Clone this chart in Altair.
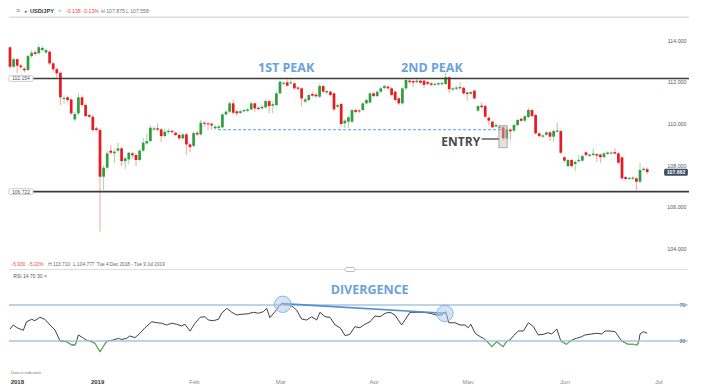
import altair as alt
import pandas as pd

# ---------------- data ----------------
opens = [113.65, 112.72, 113.08, 112.78, 112.62, 112.56, 113.23, 113.41, 113.36, 113.52,
         113.40, 113.44, 112.88, 112.60, 112.43, 111.17, 111.25, 111.15, 110.19, 110.48,
         111.25, 110.88, 110.40, 110.32, 109.76, 109.68, 107.44, 107.87, 108.69, 108.57,
         108.69, 108.80, 108.19, 108.27, 108.56, 108.48, 108.24, 108.69, 109.04, 109.15,
         109.70, 109.76, 109.71, 109.39, 109.58, 109.64, 109.55, 109.44, 109.28, 109.47,
         108.99, 108.92, 109.55, 109.47, 110.03, 110.00, 109.98, 109.76, 109.78, 109.81,
         110.43, 110.56, 110.96, 110.58, 110.50, 110.58, 110.60, 110.67, 110.96, 110.75,
         110.72, 110.77, 111.07, 110.85, 110.88, 111.44, 111.90, 111.97, 111.92, 111.92,
         111.72, 111.68, 111.05, 111.12, 111.41, 111.38, 111.28, 111.79, 111.48, 111.52,
         111.44, 110.80, 110.93, 110.00, 110.08, 110.08, 110.64, 110.62, 110.64, 110.96,
         111.00, 111.44, 111.31, 111.52, 111.70, 111.76, 111.68, 111.52, 111.20, 110.96,
         111.68, 112.05, 112.03, 111.98, 112.05, 112.05, 111.98, 111.92, 111.85, 111.87,
         111.88, 111.89, 112.21, 111.62, 111.66, 111.68, 111.71, 111.48, 111.42, 111.57,
         110.61, 110.85, 110.83, 110.27, 110.08, 109.85, 109.78, 109.81, 109.28, 109.70,
         109.65, 109.92, 110.22, 110.13, 110.30, 110.64, 110.40, 109.52, 109.36, 109.45,
         109.57, 109.36, 109.60, 109.63, 108.37, 107.95, 108.24, 108.05, 108.18, 108.21,
         108.61, 108.44, 108.48, 108.52, 108.50, 108.38, 108.53, 108.55, 108.62, 108.56,
         108.37, 107.42, 107.33, 107.34, 107.36, 107.20, 107.76, 107.80]
closes = [112.72, 113.08, 112.77, 112.70, 112.55, 113.23, 113.39, 113.33, 113.65, 113.62,
          113.52, 112.88, 112.60, 112.40, 111.25, 111.22, 111.12, 110.48, 110.45, 111.25,
          110.88, 110.35, 110.32, 109.68, 109.68, 107.44, 107.87, 108.56, 108.59, 108.64,
          108.80, 108.19, 108.32, 108.59, 108.47, 108.24, 108.69, 109.07, 109.15, 109.79,
          109.76, 109.70, 109.39, 109.60, 109.64, 109.58, 109.44, 109.28, 109.47, 108.99,
          108.86, 109.53, 109.47, 110.03, 109.98, 109.95, 109.90, 109.84, 109.85, 110.43,
          110.56, 110.96, 110.51, 110.48, 110.58, 110.64, 110.67, 110.96, 110.72, 110.69,
          110.80, 111.07, 110.83, 110.92, 111.44, 112.00, 111.95, 111.81, 111.97, 111.68,
          111.66, 111.20, 111.15, 111.36, 111.33, 111.30, 111.79, 111.52, 111.55, 111.36,
          110.67, 110.88, 109.97, 110.13, 110.29, 110.64, 110.55, 110.57, 110.96, 111.12,
          111.44, 111.31, 111.52, 111.68, 111.79, 111.68, 111.36, 111.12, 110.96, 111.68,
          112.08, 111.98, 111.96, 112.05, 111.95, 111.85, 111.90, 111.85, 111.90, 111.93,
          111.94, 112.21, 111.64, 111.68, 111.72, 111.75, 111.44, 111.41, 111.50, 111.20,
          110.83, 110.78, 110.32, 110.13, 109.81, 109.92, 109.84, 109.28, 109.71, 109.62,
          109.92, 110.16, 110.13, 110.34, 110.64, 110.35, 109.52, 109.39, 109.42, 109.57,
          109.36, 109.63, 109.66, 108.59, 108.21, 108.24, 107.95, 108.15, 108.25, 108.43,
          108.48, 108.50, 108.55, 108.45, 108.38, 108.56, 108.60, 108.60, 108.55, 108.11,
          107.36, 107.33, 107.38, 107.40, 107.20, 107.76, 107.82, 107.662]
highs = [113.72, 113.15, 113.12, 112.86, 112.70, 113.30, 113.50, 113.50, 113.76, 113.70,
         113.60, 113.50, 112.95, 112.68, 112.50, 111.35, 111.30, 111.20, 110.55, 111.47,
         111.35, 110.95, 110.45, 110.40, 109.85, 109.75, 108.00, 108.70, 108.95, 108.75,
         109.07, 108.88, 108.40, 108.65, 108.62, 108.55, 108.75, 109.30, 109.52, 109.90,
         109.85, 110.00, 109.78, 109.75, 109.75, 109.70, 109.60, 109.50, 109.53, 109.55,
         109.05, 109.62, 109.62, 110.16, 110.08, 110.05, 110.04, 109.92, 109.95, 110.50,
         110.65, 111.05, 111.15, 110.62, 110.65, 110.70, 110.75, 111.05, 111.00, 110.80,
         110.88, 111.15, 111.12, 111.04, 111.50, 112.05, 112.02, 112.10, 112.12, 111.96,
         111.78, 111.72, 111.22, 111.42, 111.50, 111.44, 111.90, 111.84, 111.62, 111.58,
         111.50, 110.95, 110.98, 110.20, 110.36, 110.70, 110.70, 110.68, 111.02, 111.18,
         111.50, 111.50, 111.58, 111.75, 111.86, 111.82, 111.74, 111.58, 111.26, 111.74,
         112.14, 112.12, 112.08, 112.12, 112.10, 112.10, 112.04, 111.98, 111.96, 111.99,
         112.00, 112.43, 112.26, 111.75, 111.80, 112.00, 111.76, 111.54, 111.56, 111.62,
         110.90, 111.00, 110.88, 110.32, 110.14, 110.00, 109.90, 109.88, 109.85, 109.76,
         109.98, 110.22, 110.28, 110.40, 110.75, 110.70, 110.45, 109.58, 109.48, 109.63,
         109.62, 109.70, 110.05, 109.68, 108.42, 108.30, 108.30, 108.22, 108.50, 108.50,
         108.66, 108.56, 108.80, 108.58, 108.55, 108.62, 108.66, 108.66, 108.80, 108.62,
         108.42, 107.48, 107.44, 107.46, 107.42, 108.10, 107.90, 107.875]
lows = [112.62, 112.65, 112.40, 112.60, 112.45, 112.50, 113.15, 113.25, 113.30, 113.45,
        113.35, 112.80, 112.50, 112.20, 110.88, 110.95, 111.00, 110.40, 110.10, 110.40,
        110.80, 110.30, 110.25, 109.60, 109.60, 104.80, 106.80, 107.80, 108.50, 108.10,
        108.60, 107.95, 107.81, 108.05, 108.30, 107.95, 108.20, 108.62, 108.98, 109.10,
        109.62, 109.62, 109.10, 109.32, 109.50, 109.50, 109.38, 109.20, 109.22, 108.48,
        108.60, 108.85, 109.40, 109.40, 109.85, 109.68, 109.68, 109.70, 109.72, 109.76,
        110.38, 110.50, 110.45, 110.35, 110.45, 110.52, 110.55, 110.62, 110.55, 110.62,
        110.66, 110.72, 110.48, 110.48, 110.82, 111.40, 111.84, 111.76, 111.86, 111.62,
        111.58, 110.82, 110.98, 111.05, 111.28, 111.22, 111.22, 111.46, 111.40, 111.30,
        110.60, 110.72, 109.90, 109.78, 109.76, 110.02, 110.48, 110.50, 110.58, 110.90,
        110.95, 111.25, 111.26, 111.46, 111.64, 111.62, 111.30, 111.06, 110.88, 110.90,
        111.62, 111.90, 111.75, 111.92, 111.88, 111.70, 111.84, 111.78, 111.80, 111.82,
        111.82, 111.84, 111.45, 111.56, 111.60, 111.62, 111.38, 111.10, 111.36, 111.14,
        110.55, 110.72, 110.26, 109.92, 109.76, 109.80, 109.72, 109.20, 109.22, 109.20,
        109.58, 109.86, 110.06, 110.06, 110.24, 110.28, 109.46, 109.32, 109.30, 109.40,
        109.15, 109.10, 109.55, 108.52, 108.14, 107.88, 107.88, 107.70, 108.12, 108.15,
        108.42, 108.38, 108.42, 108.15, 108.10, 108.32, 108.48, 108.50, 108.50, 108.05,
        107.30, 107.26, 107.28, 107.28, 106.80, 107.14, 107.70, 107.558]

rsi_x = [0.0, 0.9, 1.9, 2.8, 3.7, 4.6, 6.0, 6.9, 8.3, 9.7, 11.1, 12.5, 13.9, 15.8, 17.1, 18.1,
         18.5, 19.0, 20.2, 21.1, 22.2, 23.6, 25.0, 26.9, 28.7, 30.1, 31.0, 32.4, 33.3, 34.7,
         36.1, 37.5, 39.4, 40.8, 42.1, 43.5, 44.9, 46.3, 47.7, 48.6, 50.0, 51.4, 52.8, 54.2,
         55.1, 56.5, 57.9, 58.8, 60.2, 61.6, 63.0, 64.4, 66.2, 67.6, 69.0, 70.4, 71.3, 72.2,
         73.6, 75.0, 75.75, 76.9, 78.25, 79.6, 81.0, 82.4, 83.8, 85.2, 86.1, 87.5, 88.9, 90.3,
         91.7, 93.1, 94.4, 95.8, 97.2, 98.6, 100.0, 101.4, 102.8, 104.2, 105.6, 106.9, 108.8,
         109.7, 111.1, 113.0, 114.8, 116.7, 118.5, 119.9, 121.0, 121.9, 123.6, 125.0, 126.4,
         127.3, 128.0, 129.2, 130.6, 131.5, 132.4, 133.8, 135.2, 137.0, 138.0, 138.9, 139.8,
         141.2, 142.6, 144.0, 145.4, 146.75, 148.1, 149.5, 150.5, 151.9, 153.0, 154.6, 155.6,
         156.7, 157.4, 158.8, 159.7, 161.6, 163.0, 164.4, 165.3, 166.7, 168.1, 169.4, 169.9,
         171.75, 173.1, 174.25, 174.7, 175.0, 175.9, 177.0]
rsi_v = [43.3, 47.8, 44.8, 43.3, 41.9, 51.4, 54.1, 52.6, 56.3, 54.1, 47.8, 42.2, 30.0, 29.2, 25.6, 25.6,
         30.0, 36.7, 33.7, 31.1, 30.0, 27.4, 18.1, 30.0, 31.1, 33.0, 31.7, 33.0, 35.6, 33.7,
         38.6, 44.8, 51.4, 50.3, 49.7, 47.8, 49.7, 48.6, 46.7, 48.6, 41.1, 49.7, 56.3, 57.0,
         53.3, 52.6, 54.1, 60.8, 66.3, 61.9, 58.9, 59.7, 60.3, 61.9, 60.8, 62.6, 66.3, 55.9,
         62.6, 70.0, 71.9, 70.0, 68.9, 64.4, 54.4, 53.3, 57.0, 53.3, 61.9, 57.0, 56.3, 47.8,
         44.8, 35.9, 37.4, 45.9, 44.8, 48.6, 51.4, 57.8, 57.0, 60.8, 61.9, 58.9, 47.8,
         53.3, 61.9, 61.9, 61.9, 60.8, 58.9, 58.9, 62.6, 50.3, 50.3, 47.8, 47.8,
         44.8, 48.6, 38.6, 34.8, 33.0, 30.0, 23.7, 29.2, 23.7, 30.0, 31.1, 35.6,
         41.1, 41.1, 50.3, 45.9, 36.7, 37.4, 39.2, 37.8, 43.3, 30.0, 26.3, 30.0,
         32.2, 33.0, 34.8, 36.7, 37.8, 38.6, 37.8, 41.1, 41.1, 40.3, 33.0, 30.0,
         26.3, 26.3, 25.6, 30.0, 37.8, 40.3, 38.6]

tick_pos = [1.9, 24.2, 51.1, 75.1, 101.0, 127.1, 154.0, 180.1]
tick_lab = ["2018", "2019", "Feb", "Mar", "Apr", "May", "Jun", "Jul"]
price_ticks = [104, 106, 108, 110, 112, 114]

level_vals = [112.154, 106.722]
level_labels = ["112.154", "106.722"]
entry_price = 109.70
last_price = 107.662
rsi_bands = [70, 30]

# ---------------- layout ----------------
W, H = 681, 366
BLUE = "#6aa2dc"
FONT = "Liberation Sans"

xs = alt.Scale(domain=[-0.5556, 188.6111], nice=False, zero=False, padding=0)
ys = alt.Scale(domain=[103, 115], range=[261.17, 11.21], nice=False, zero=False)
yr = alt.Scale(domain=[0, 100], range=[360, 270], nice=False, zero=False)

expr = ""
for k in range(len(tick_pos) - 1):
    mid = (tick_pos[k] + tick_pos[k + 1]) / 2
    expr += f"datum.value < {mid:.2f} ? '{tick_lab[k]}' : "
expr += f"'{tick_lab[-1]}'"

x_axis = alt.Axis(values=tick_pos, labelExpr=expr, ticks=False, domain=False, grid=False,
                  labelFontSize=6, labelFont=FONT, labelPadding=4, labelFlush=False,
                  labelOverlap=False, title=None,
                  labelFontWeight={"condition": {"test": "datum.value < 37", "value": "bold"}, "value": "normal"},
                  labelColor={"condition": {"test": "datum.value < 37", "value": "#333333"}, "value": "#8a8a8a"})
y_axis = alt.Axis(orient="right", values=price_ticks, format=".3f", offset=-3, labelAlign="right",
                  labelPadding=0, ticks=False, domain=False, grid=False, labelFontSize=5.3,
                  labelFont=FONT, labelColor="#555555", labelBaseline="middle", title=None)


def X(f):
    return alt.X(f, scale=xs, axis=x_axis)


def YP(f):
    return alt.Y(f, scale=ys, axis=y_axis)


def YR(f):
    return alt.Y(f, scale=yr, axis=None)


def chrome_text(text, px, py, size, color, weight="normal", align="left"):
    return alt.Chart(pd.DataFrame({"t": [text]})).mark_text(
        align=align, baseline="middle", fontSize=size, color=color, fontWeight=weight, font=FONT
    ).encode(x=alt.value(px), y=alt.value(py), text="t:N")


def chrome_rule(px0, px1, py, color, width):
    return alt.Chart(pd.DataFrame({"a": [0]})).mark_rule(color=color, strokeWidth=width).encode(
        x=alt.value(px0), x2=alt.value(px1), y=alt.value(py))


candles = pd.DataFrame({"i": list(range(len(opens))), "open": opens, "close": closes,
                        "high": highs, "low": lows})
up = "datum.close >= datum.open"

wicks = alt.Chart(candles).mark_rule(strokeWidth=1).encode(
    x=X("i:Q"), y=YP("low:Q"), y2="high:Q",
    color=alt.condition(up, alt.value("#a3d6a3"), alt.value("#f4a3a3")))
bodies = alt.Chart(candles).mark_bar(size=2.7).encode(
    x=X("i:Q"), y=YP("open:Q"), y2="close:Q",
    color=alt.condition(up, alt.value("#2f9e3f"), alt.value("#e8191f")))

lv = pd.DataFrame({"p": level_vals, "t": level_labels, "x0": [6.39] * 2, "x1": [188.6] * 2,
                   "b0": [-0.28] * 2, "b1": [6.39] * 2, "bc": [3.05] * 2,
                   "plo": [v - 0.14 for v in level_vals], "phi": [v + 0.14 for v in level_vals]})
level_rules = alt.Chart(lv).mark_rule(color="#3a3a3a", strokeWidth=1.6).encode(
    x=X("x0:Q"), x2="x1:Q", y=YP("p:Q"))
level_boxes = alt.Chart(lv).mark_rect(fill="white", stroke="#c4c4c4", strokeWidth=0.8, cornerRadius=1).encode(
    x=X("b0:Q"), x2="b1:Q", y=YP("plo:Q"), y2="phi:Q")
level_text = alt.Chart(lv).mark_text(fontSize=5, color="#555555", font=FONT).encode(
    x=X("bc:Q"), y=YP("p:Q"), text="t:N")

ed = pd.DataFrame({"x0": [57.8], "x1": [137.0], "p": [entry_price]})
entry_dash = alt.Chart(ed).mark_rule(color="#7fb0e3", strokeWidth=1.2, strokeDash=[3, 2]).encode(
    x=X("x0:Q"), x2="x1:Q", y=YP("p:Q"))

eb = pd.DataFrame({"x0": [135.8], "x1": [138.1], "p0": [108.83], "p1": [109.89]})
entry_box = alt.Chart(eb).mark_rect(fill="#bdbdbd", fillOpacity=0.45, stroke="#9a9a9a", strokeWidth=0.8).encode(
    x=X("x0:Q"), x2="x1:Q", y=YP("p0:Q"), y2="p1:Q")
er = pd.DataFrame({"x0": [131.0], "x1": [135.8], "p": [109.25]})
entry_rule = alt.Chart(er).mark_rule(color="#555555", strokeWidth=1.4).encode(
    x=X("x0:Q"), x2="x1:Q", y=YP("p:Q"))
et = pd.DataFrame({"x": [125.2], "p": [109.12], "t": ["ENTRY"]})
entry_text = alt.Chart(et).mark_text(font="Open Sans", fontSize=12, fontWeight="bold", color="#4a4a4a").encode(
    x=X("x:Q"), y=YP("p:Q"), text="t:N")

pk = pd.DataFrame({"x": [76.7, 117.2], "p": [112.68, 112.68], "t": ["1ST PEAK", "2ND PEAK"]})
peak_text = alt.Chart(pk).mark_text(font="Open Sans", fontSize=12.5, fontWeight="bold", color=BLUE).encode(
    x=X("x:Q"), y=YP("p:Q"), text="t:N")

bd = pd.DataFrame({"x0": [181.7], "x1": [188.3], "p0": [107.49], "p1": [107.82], "xc": [185.0],
                   "p": [last_price], "t": [f"{last_price:.3f}"]})
badge = alt.Chart(bd).mark_rect(fill="#3d4d62", cornerRadius=1.5).encode(
    x=X("x0:Q"), x2="x1:Q", y=YP("p0:Q"), y2="p1:Q")
badge_text = alt.Chart(bd).mark_text(fontSize=5.2, color="white", fontWeight="bold", font=FONT).encode(
    x=X("xc:Q"), y=YP("p:Q"), text="t:N")

header = [
    chrome_rule(1, 681, 9.3, "#dddddd", 1.4),
    chrome_text("≡", 8, 3, 7, "#777777"),
    chrome_text("●", 16, 3, 5, "#2f9e3f"),
    chrome_text("USD/JPY", 22, 3, 5.6, "#333333", "bold"),
    chrome_text("˅", 50, 3, 6, "#888888"),
    chrome_text("-0.138", 58, 3, 5.2, "#e05050"),
    chrome_text("-0.13%", 74.5, 3, 5.2, "#e05050"),
    chrome_text("H 107.875", 93, 3, 5.2, "#777777"),
    chrome_text("L 107.558", 118, 3, 5.2, "#777777"),
]

price = alt.layer(wicks, bodies, level_rules, level_boxes, level_text, entry_dash, entry_box,
                  entry_rule, entry_text, peak_text, badge, badge_text, *header)

# ---------------- RSI panel ----------------
bdf = pd.DataFrame({"v": rsi_bands, "x0": [-0.28] * 2, "x1": [188.3] * 2, "xl": [187.6] * 2,
                    "t": [str(b) for b in rsi_bands]})
bands = alt.Chart(bdf).mark_rule(color="#a9c3e2", strokeWidth=1.4).encode(
    x=X("x0:Q"), x2="x1:Q", y=YR("v:Q"))
band_text = alt.Chart(bdf).mark_text(align="right", fontSize=5.3, color="#555555", font=FONT).encode(
    x=X("xl:Q"), y=YR("v:Q"), text="t:N")

rsi_df = pd.DataFrame({"x": rsi_x, "v": rsi_v, "k": list(range(len(rsi_x)))})
rsi_line = alt.Chart(rsi_df).mark_line(color="#404040", strokeWidth=1).encode(
    x=X("x:Q"), y=YR("v:Q"), order="k:Q")


def runs(test):
    rows, seg, cur = [], 0, []
    for k, (x, v) in enumerate(zip(rsi_x, rsi_v)):
        if test(v):
            cur.append((k, x, v))
        else:
            if len(cur) >= 2:
                rows += [{"k": a, "x": b, "v": c, "s": seg} for a, b, c in cur]
                seg += 1
            cur = []
    if len(cur) >= 2:
        rows += [{"k": a, "x": b, "v": c, "s": seg} for a, b, c in cur]
    return pd.DataFrame(rows)


green = alt.Chart(runs(lambda v: v <= 30)).mark_line(color="#5cb85c", strokeWidth=1.1).encode(
    x=X("x:Q"), y=YR("v:Q"), detail="s:N", order="k:Q")
red = alt.Chart(runs(lambda v: v >= 70)).mark_line(color="#e04848", strokeWidth=1.1).encode(
    x=X("x:Q"), y=YR("v:Q"), detail="s:N", order="k:Q")

dl = pd.DataFrame({"x": [75.75], "v": [71.5], "x2": [120.8], "v2": [60.8]})
div_line = alt.Chart(dl).mark_rule(color="#4f8fd6", strokeWidth=1.6).encode(
    x=X("x:Q"), y=YR("v:Q"), x2="x2:Q", y2="v2:Q")
cc = pd.DataFrame({"x": [75.75, 120.8], "v": [70.8, 60.6]})
circles = alt.Chart(cc).mark_circle(size=270, color="#a9c9ee", fillOpacity=0.5, stroke="#7eaee2",
                                    strokeWidth=1, strokeOpacity=0.9).encode(x=X("x:Q"), y=YR("v:Q"))
dt = pd.DataFrame({"x": [99.9], "v": [87.0], "t": ["DIVERGENCE"]})
div_text = alt.Chart(dt).mark_text(font="Open Sans", fontSize=12.5, fontWeight="bold", color=BLUE).encode(
    x=X("x:Q"), y=YR("v:Q"), text="t:N")

footer = [
    chrome_rule(1, 680, 261.5, "#dddddd", 1.2),
    alt.Chart(pd.DataFrame({"a": [0]})).mark_rect(fill="white", stroke="#aaaaaa", strokeWidth=0.8,
                                                   cornerRadius=2).encode(
        x=alt.value(337), x2=alt.value(347), y=alt.value(259.5), y2=alt.value(263.5)),
    chrome_text("-5.930", 3.7, 257, 4.8, "#e05050"),
    chrome_text("-5.22%", 20.3, 257, 4.8, "#e05050"),
    chrome_text("H 113.710", 40.3, 257, 4.8, "#666666"),
    chrome_text("L 104.777", 65.3, 257, 4.8, "#666666"),
    chrome_text("Tue 4 Dec 2018 - Tue 9 Jul 2019", 88.7, 257, 4.7, "#666666"),
    chrome_text("RSI  14  70  30  ×", 5.3, 268.3, 5, "#555555"),
    chrome_text("Data is indicative", 3, 365.3, 4, "#777777"),
]

rsi = alt.layer(rsi_line, bands, band_text, div_line, green, red, circles, div_text, *footer)

chart = alt.layer(price, rsi).resolve_scale(y="independent").properties(
    width=W, height=H,
    padding={"left": 0, "top": 0, "right": 10, "bottom": 10},
    autosize=alt.AutoSizeParams(type="none"),
    background="white",
).configure_view(strokeWidth=0)

chart.save("out.html", embed_options={"renderer": "svg", "actions": False})
